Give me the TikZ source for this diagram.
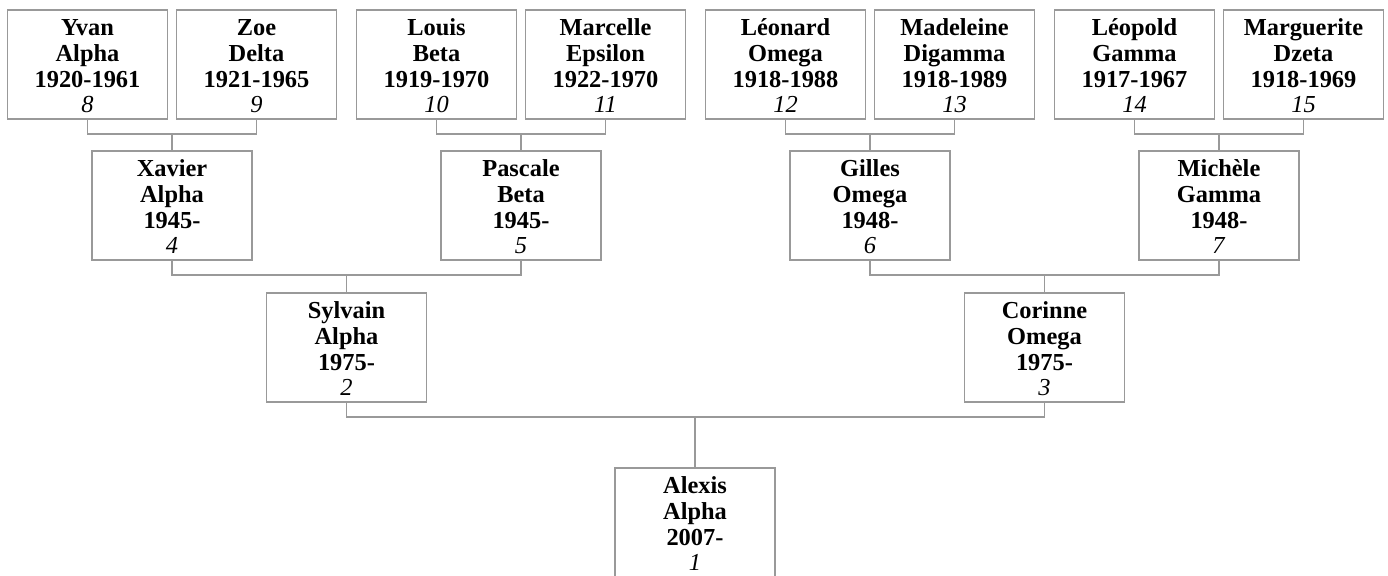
\documentclass[tikz,border=0pt]{standalone}
\usepackage{fontspec}
\setmainfont{Liberation Serif}
\definecolor{linegray}{HTML}{999999}

\tikzset{
  person/.style={draw=linegray, line width=0.75pt, rectangle, fill=white,
    minimum width=80pt, minimum height=54.5pt, inner sep=0pt, align=center,
    font=\fontsize{12.2}{12.9}\selectfont},
  link/.style={draw=linegray, line width=0.75pt}
}
\newcommand{\who}[4]{\rule{0pt}{9.8pt}\textbf{#1}\\\textbf{#2}\\\textbf{#3}\\\textit{#4}}

\begin{document}
\begin{tikzpicture}[x=0.5pt,y=-0.5pt]
        \useasboundingbox (0,0) rectangle (1388,576);
        % great-grandparents
        \node[person] (p8) at (87.5,64.5) {\who{Yvan}{Alpha}{1920-1961}{8}};
        \node[person] (p9) at (256.5,64.5) {\who{Zoe}{Delta}{1921-1965}{9}};
        \node[person] (p10) at (436.5,64.5) {\who{Louis}{Beta}{1919-1970}{10}};
        \node[person] (p11) at (605.5,64.5) {\who{Marcelle}{Epsilon}{1922-1970}{11}};
        \node[person] (p12) at (785.5,64.5) {\who{Léonard}{Omega}{1918-1988}{12}};
        \node[person] (p13) at (954.5,64.5) {\who{Madeleine}{Digamma}{1918-1989}{13}};
        \node[person] (p14) at (1134.5,64.5) {\who{Léopold}{Gamma}{1917-1967}{14}};
        \node[person] (p15) at (1303.5,64.5) {\who{Marguerite}{Dzeta}{1918-1969}{15}};
        % grandparents
        \node[person] (p4) at (172,205.5) {\who{Xavier}{Alpha}{1945-}{4}};
        \node[person] (p5) at (521,205.5) {\who{Pascale}{Beta}{1945-}{5}};
        \node[person] (p6) at (870,205.5) {\who{Gilles}{Omega}{1948-}{6}};
        \node[person] (p7) at (1219,205.5) {\who{Michèle}{Gamma}{1948-}{7}};
        % parents
        \node[person] (p2) at (346.5,347.5) {\who{Sylvain}{Alpha}{1975-}{2}};
        \node[person] (p3) at (1044.5,347.5) {\who{Corinne}{Omega}{1975-}{3}};
        % child
        \node[person] (p1) at (695,522.5) {\who{Alexis}{Alpha}{2007-}{1}};

        \coordinate (j4) at ([yshift=8pt]p4.north);
        \coordinate (j5) at ([yshift=8pt]p5.north);
        \coordinate (j6) at ([yshift=8pt]p6.north);
        \coordinate (j7) at ([yshift=8pt]p7.north);
        \coordinate (j2) at ([yshift=8.5pt]p2.north);
        \coordinate (j3) at ([yshift=8.5pt]p3.north);
        \coordinate (j1) at ([yshift=25pt]p1.north);

        \draw[link] (p8.south) |- (j4) -| (p9.south);
        \draw[link] (p10.south) |- (j5) -| (p11.south);
        \draw[link] (p12.south) |- (j6) -| (p13.south);
        \draw[link] (p14.south) |- (j7) -| (p15.south);
        \draw[link] (j4) -- (p4.north);
        \draw[link] (j5) -- (p5.north);
        \draw[link] (j6) -- (p6.north);
        \draw[link] (j7) -- (p7.north);

        \draw[link] (p4.south) |- (j2) -| (p5.south);
        \draw[link] (p6.south) |- (j3) -| (p7.south);
        \draw[link] (j2) -- (p2.north);
        \draw[link] (j3) -- (p3.north);

        \draw[link] (p2.south) |- (j1) -| (p3.south);
        \draw[link] (j1) -- (p1.north);
      \end{tikzpicture}
\end{document}
